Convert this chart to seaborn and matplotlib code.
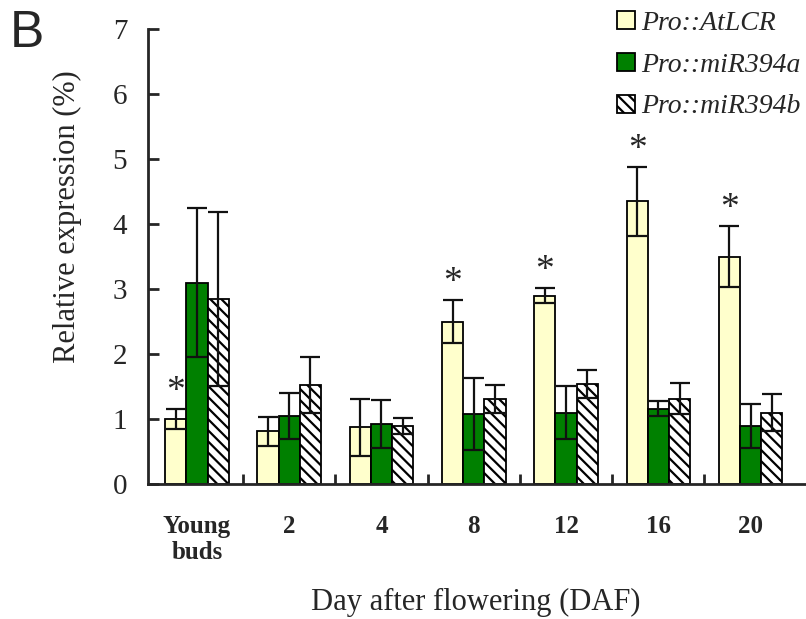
import matplotlib
matplotlib.use("Agg")
import matplotlib.pyplot as plt
from matplotlib.patches import Patch
from matplotlib.ticker import FixedLocator
import pandas as pd
import seaborn as sns

# values
stages = ["Young\nbuds", "2", "4", "8", "12", "16", "20"]
lines = ["Pro::AtLCR", "Pro::miR394a", "Pro::miR394b"]

atlcr = [1.00, 0.81, 0.87, 2.50, 2.90, 4.35, 3.50]
atlcr_err = [0.16, 0.22, 0.44, 0.33, 0.12, 0.53, 0.47]
mir394a = [3.10, 1.05, 0.92, 1.08, 1.10, 1.16, 0.89]
mir394a_err = [1.14, 0.35, 0.37, 0.55, 0.41, 0.12, 0.34]
mir394b = [2.85, 1.52, 0.89, 1.31, 1.54, 1.31, 1.10]
mir394b_err = [1.34, 0.43, 0.12, 0.22, 0.22, 0.24, 0.29]
significant = [True, False, False, True, True, True, True]

colors = ["#FFFFCC", "#008000", "white"]

df = pd.DataFrame({
    "stage": stages * 3,
    "line": [l for l in lines for _ in stages],
    "value": atlcr + mir394a + mir394b,
    "err": atlcr_err + mir394a_err + mir394b_err,
})

sns.set_style("ticks")
plt.rcParams["font.family"] = ["Liberation Serif", "DejaVu Serif"]
plt.rcParams["hatch.linewidth"] = 1.6

fig = plt.figure(figsize=(8.06, 6.19), dpi=100)
ax = fig.add_axes([148 / 806, 1 - 484 / 619, 1 - 148 / 806, (484 - 29) / 619])

sns.barplot(data=df, x="stage", y="value", hue="line", hue_order=lines,
            palette=colors, saturation=1, width=0.69, errorbar=None,
            edgecolor="black", linewidth=1.3, legend=False, ax=ax)

errs = [atlcr_err, mir394a_err, mir394b_err]
bar_containers = list(ax.containers)
for i, cont in enumerate(bar_containers):
    xs = []
    ys = []
    for bar in cont:
        xs.append(bar.get_x() + bar.get_width() / 2)
        ys.append(bar.get_height())
        if i == 2:
            bar.set_hatch("\\\\\\")
    ax.errorbar(xs, ys, yerr=errs[i], fmt="none", ecolor="#111111",
                elinewidth=1.6, capsize=7, capthick=1.6, zorder=5)
    if i == 0:
        for x, y, e, s in zip(xs, ys, errs[i], significant):
            if s:
                ax.text(x, y + e + 0.12, "*", ha="center", va="baseline",
                        fontsize=27)

ax.set_ylim(0, 7)
ax.set_xlim(-0.53, 6.6)
ax.set_yticks(range(0, 8))
ax.xaxis.set_minor_locator(FixedLocator([i + 0.5 for i in range(6)]))
ax.tick_params(axis="y", direction="in", length=8, width=2, labelsize=21, pad=15)
ax.tick_params(axis="x", which="major", length=0, labelsize=18, pad=22)
ax.tick_params(axis="x", which="minor", direction="in", length=7, width=2)
for lab in ax.get_xticklabels():
    lab.set_fontweight("bold")
sns.despine(ax=ax)
ax.spines["left"].set_linewidth(2)
ax.spines["bottom"].set_linewidth(2)

ax.set_ylabel("Relative expression (%)", fontsize=22)
ax.set_xlabel("Day after flowering (DAF)", fontsize=22)
ax.yaxis.set_label_coords(-0.100, 0.587)
ax.xaxis.set_label_coords(0.4985, -0.229)

handles = [Patch(facecolor=colors[k], edgecolor="black", linewidth=1.3,
                 hatch="\\\\\\" if k == 2 else None) for k in range(3)]
fig.legend(handles, lines, loc="upper right",
           bbox_to_anchor=(1 + 20 / 806, 1 + 14 / 619),
           frameon=False, handlelength=0.62, handleheight=0.62,
           handletextpad=0.25, labelspacing=0.6,
           prop={"family": "Liberation Serif", "style": "italic", "size": 20})

fig.text(0.012, 0.985, "B", ha="left", va="top", fontsize=37,
         family="Liberation Sans")

fig.savefig("out.png", dpi=100)
